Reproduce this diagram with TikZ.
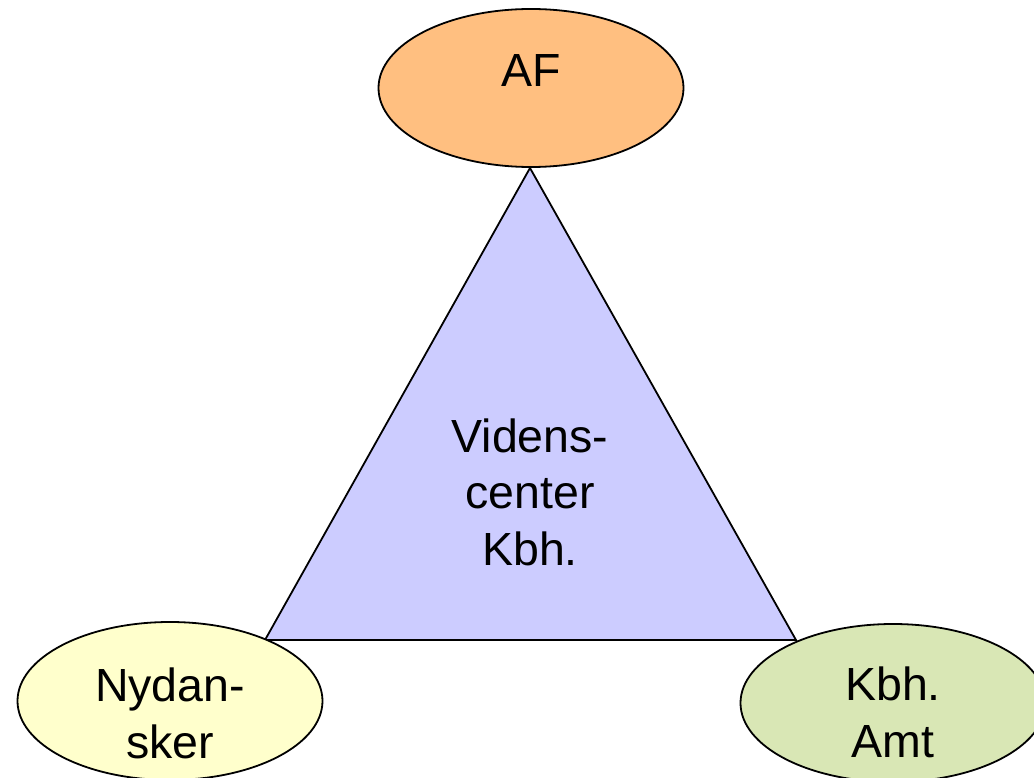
\documentclass[tikz,border=0pt]{standalone}
\usepackage{fontspec}
\setmainfont{Liberation Sans}
\usetikzlibrary{shapes.geometric}
\definecolor{afc}{HTML}{FFBF80}
\definecolor{nyc}{HTML}{FFFFCC}
\definecolor{kbc}{HTML}{D9E7B5}
\definecolor{trc}{HTML}{CCCCFF}
\begin{document}
\begin{tikzpicture}[x=1pt,y=-1pt,
  oval/.style={ellipse,draw=black,line width=1.8pt,minimum width=305pt,minimum height=158pt,inner sep=0pt},
  lbl/.style={font=\fontsize{46.5}{56.5}\selectfont,align=center,anchor=base,inner sep=0pt}]
\useasboundingbox (0,0) rectangle (1034,778);
\coordinate (apex) at (530,168);
\coordinate (bl) at (265,640);
\coordinate (br) at (796,640);
\draw[fill=trc,line width=1.8pt,line join=miter] (apex) -- (bl) -- (br) -- cycle;
\node[lbl] (vc) at (530,565) {Videns-\\center\\Kbh.};
\node[oval,fill=afc] (af) at (531,88) {};
\node[lbl] (aft) at (531,87) {AF};
\node[oval,fill=nyc] (ny) at (170,701) {};
\node[lbl] (nyt) at (170,758) {Nydan-\\sker};
\node[oval,fill=kbc] (kb) at (893,703) {};
\node[lbl] (kbt) at (893,757) {Kbh.\\Amt};
\end{tikzpicture}
\end{document}
